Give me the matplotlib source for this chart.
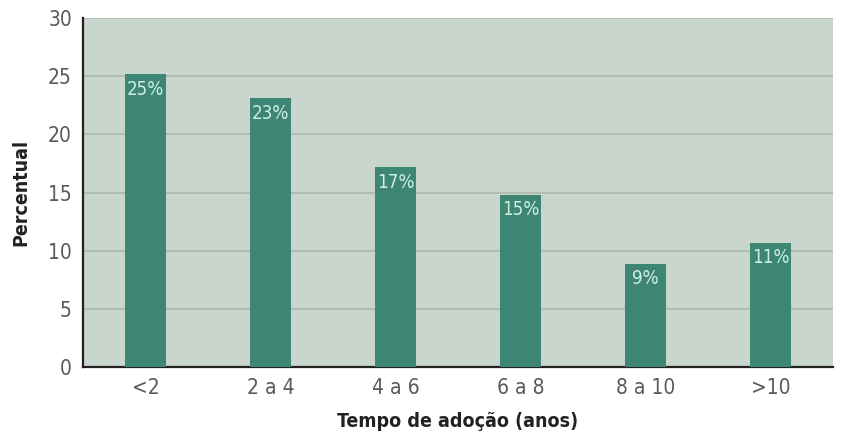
import matplotlib
matplotlib.use("Agg")
import matplotlib.pyplot as plt
from matplotlib import font_manager
from matplotlib.font_manager import FontProperties

categories = ["<2", "2 a 4", "4 a 6", "6 a 8", "8 a 10", ">10"]
percentuais = [25.2, 23.1, 17.2, 14.8, 8.9, 10.7]
y_ticks = [0, 5, 10, 15, 20, 25, 30]


def find_face(keywords, bold=False):
    """Return the path of a narrow / condensed face if one is installed."""
    for entry in font_manager.fontManager.ttflist:
        fname = entry.fname.lower()
        is_bold = "bold" in fname
        if is_bold != bold or "oblique" in fname or "italic" in fname:
            continue
        if any(k in fname for k in keywords):
            return entry.fname
    return None


keys = ["robotocondensed", "roboto_condensed", "sansnarrow", "sanscondensed",
        "condensed", "narrow"]
reg_path = find_face(keys)
bold_path = find_face(keys, bold=True)


def fp(size, bold=False):
    path = bold_path if bold else reg_path
    if path:
        return FontProperties(fname=path, size=size)
    return FontProperties(family="DejaVu Sans", size=size,
                          weight="bold" if bold else "normal")


bg = "#c9d6cd"
bar_color = "#3c8673"
label_color = "#cdeee0"
grid_color = "#abb8b0"

fig = plt.figure(figsize=(8.42, 4.33), dpi=100)
ax = fig.add_axes([0.0986, 0.1524, 0.8906, 0.8056])
ax.set_facecolor(bg)

x = range(len(categories))
bars = ax.bar(x, percentuais, width=0.33, color=bar_color, zorder=3)

for b, v in zip(bars, percentuais):
    ax.annotate(f"{v:.0f}%", (b.get_x() + b.get_width() / 2, v),
                xytext=(0, -4), textcoords="offset points",
                ha="center", va="top", color=label_color,
                fontproperties=fp(13.5), zorder=4)

ax.set_xlim(-0.5, len(categories) - 0.5)
ax.set_ylim(0, 30)
ax.set_yticks(y_ticks)
ax.set_xticks(list(x))
ax.set_xticklabels(categories)
ax.yaxis.grid(True, color=grid_color, linewidth=1.2, zorder=1)
ax.set_axisbelow(True)

for s in ["top", "right"]:
    ax.spines[s].set_visible(False)
ax.spines["left"].set_color("#222222")
ax.spines["left"].set_linewidth(1.6)
ax.spines["bottom"].set_color("#222222")
ax.spines["bottom"].set_linewidth(1.6)

ax.tick_params(axis="both", length=0, pad=8, labelcolor="#5a5a5a")
for lab in ax.get_xticklabels() + ax.get_yticklabels():
    lab.set_fontproperties(fp(15))

ax.set_ylabel("Percentual", fontproperties=fp(14, bold=True),
              color="#222222", labelpad=13)
ax.set_xlabel("Tempo de adoção (anos)", fontproperties=fp(14, bold=True),
              color="#222222", labelpad=10)

fig.savefig("out.png", dpi=100, facecolor="white")
